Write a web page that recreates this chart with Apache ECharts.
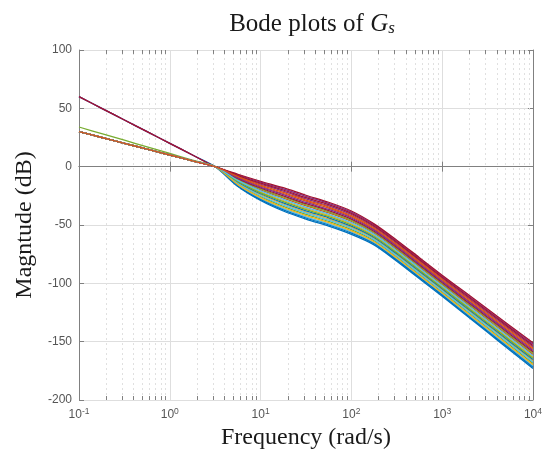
<!DOCTYPE html>
<html><head><meta charset="utf-8">
<script src="https://cdn.jsdelivr.net/npm/echarts@6/dist/echarts.min.js"></script>
<style>html,body{margin:0;padding:0;background:#fff}#c{width:545px;height:457px}</style>
</head><body><div id="c"></div>
<script>
// frequencies (rad/s), quarter-decade steps
const freqs = [0.1, 0.1778, 0.3162, 0.5623, 1, 1.778, 3.162, 5.623, 10, 17.78, 31.62, 56.23, 100, 177.8, 316.2, 562.3, 1000, 1778, 3162, 5623, 10000];
// magnitude (dB) of each response
const mag01 = [60, 50, 40, 30, 20, 10, 0, -17, -29, -38, -45, -51, -58, -67, -81, -96, -111, -126.5, -142, -157.5, -173];
const mag02 = [30, 25, 20, 15, 10, 5, 0, -11.2, -19.9, -27, -33.7, -39.7, -47, -57.1, -71.1, -86.1, -101.1, -116.1, -131, -145.9, -160.9];
const mag03 = [30, 25, 20, 15, 10, 5, 0, -13.9, -24.1, -32, -38.9, -44.9, -52, -61.6, -75.6, -90.6, -105.6, -120.8, -136, -151.2, -166.4];
const mag04 = [60, 50, 40, 30, 20, 10, 0, -7, -13.3, -19, -25.5, -31.5, -39, -49.9, -63.9, -78.9, -93.9, -108.5, -123, -137.6, -152.1];
const mag05 = [34, 28.3, 22.7, 17, 11.3, 5.7, 0, -14.9, -25.7, -34, -40.9, -46.9, -54, -63.4, -77.4, -92.4, -107.4, -122.7, -138, -153.3, -168.6];
const mag06 = [30, 25, 20, 15, 10, 5, 0, -16, -27.4, -36, -43, -49, -56, -65.2, -79.2, -94.2, -109.2, -124.6, -140, -155.4, -170.8];
const mag07 = [60, 50, 40, 30, 20, 10, 0, -6.5, -12.5, -18, -24.5, -30.5, -38, -49, -63, -78, -93, -107.5, -122, -136.5, -151];
const mag08 = [30, 25, 20, 15, 10, 5, 0, -13.3, -23.2, -31, -37.8, -43.8, -51, -60.7, -74.7, -89.7, -104.7, -119.9, -135, -150.2, -165.3];
const mag09 = [30, 25, 20, 15, 10, 5, 0, -9.1, -16.6, -23, -29.6, -35.6, -43, -53.5, -67.5, -82.5, -97.5, -112.3, -127, -141.8, -156.5];
const mag10 = [30, 25, 20, 15, 10, 5, 0, -12.3, -21.6, -29, -35.8, -41.8, -49, -58.9, -72.9, -87.9, -102.9, -118, -133, -148.1, -163.1];
const mag11 = [30, 25, 20, 15, 10, 5, 0, -8.1, -15, -21, -27.6, -33.6, -41, -51.7, -65.7, -80.7, -95.7, -110.4, -125, -139.7, -154.3];
const mag12 = [30, 25, 20, 15, 10, 5, 0, -10.7, -19.1, -26, -32.7, -38.7, -46, -56.2, -70.2, -85.2, -100.2, -115.1, -130, -144.9, -159.8];
const mag13 = [30, 25, 20, 15, 10, 5, 0, -14.4, -24.9, -33, -39.9, -45.9, -53, -62.5, -76.5, -91.5, -106.5, -121.8, -137, -152.3, -167.5];
const mag14 = [30, 25, 20, 15, 10, 5, 0, -7.6, -14.2, -20, -26.6, -32.6, -40, -50.8, -64.8, -79.8, -94.8, -109.4, -124, -138.6, -153.2];
const mag15 = [30, 25, 20, 15, 10, 5, 0, -16.5, -28.2, -37, -44, -50, -57, -66.1, -80.1, -95.1, -110.1, -125.6, -141, -156.5, -171.9];
const mag16 = [30, 25, 20, 15, 10, 5, 0, -10.2, -18.3, -25, -31.7, -37.7, -45, -55.3, -69.3, -84.3, -99.3, -114.2, -129, -143.9, -158.7];
const mag17 = [30, 25, 20, 15, 10, 5, 0, -15.4, -26.5, -35, -41.9, -47.9, -55, -64.3, -78.3, -93.3, -108.3, -123.7, -139, -154.4, -169.7];
const mag18 = [30, 25, 20, 15, 10, 5, 0, -9.7, -17.5, -24, -30.7, -36.7, -44, -54.4, -68.4, -83.4, -98.4, -113.2, -128, -142.8, -157.6];
const mag19 = [30, 25, 20, 15, 10, 5, 0, -12.8, -22.4, -30, -36.8, -42.8, -50, -59.8, -73.8, -88.8, -103.8, -118.9, -134, -149.1, -164.2];
const mag20 = [30, 25, 20, 15, 10, 5, 0, -11.8, -20.8, -28, -34.8, -40.8, -48, -58, -72, -87, -102, -117, -132, -147, -162];
const mag21 = [30, 25, 20, 15, 10, 5, 0, -8.6, -15.8, -22, -28.6, -34.6, -42, -52.6, -66.6, -81.6, -96.6, -111.3, -126, -140.7, -155.4];
const curves = [mag01, mag02, mag03, mag04, mag05, mag06, mag07, mag08, mag09, mag10, mag11,
  mag12, mag13, mag14, mag15, mag16, mag17, mag18, mag19, mag20, mag21];

const yTicks = [-200, -150, -100, -50, 0, 50, 100];
const xMin = 0.1, xMax = 10000;
// MATLAB default line colours, one per curve
const C = { blue: '#0072BD', orange: '#D95319', yellow: '#EDB120', purple: '#7E2F8E', green: '#77AC30', lblue: '#4DBEEE', dred: '#A2142F' };
const lineColors = [C.blue, C.orange, C.yellow, C.purple, C.green, C.lblue, C.dred,
  C.blue, C.orange, C.yellow, C.purple, C.green, C.lblue, C.dred,
  C.blue, C.dred, C.yellow, C.purple, C.green, C.lblue, C.orange];

// minor decade positions 2..9 x 10^k
const minorVals = [];
for (let k = -1; k <= 3; k++) for (let m = 2; m <= 9; m++) minorVals.push(m * Math.pow(10, k));

const axisColor = '#808080';
const labelColor = '#555';
const textColor = '#1a1a1a';

const series = curves.map((c, i) => ({
  type: 'line',
  xAxisIndex: 0, yAxisIndex: 0,
  data: freqs.map((f, j) => [f, c[j]]),
  showSymbol: false,
  smooth: 0.3,
  lineStyle: { width: 1.3, color: lineColors[i] },
  itemStyle: { color: lineColors[i] },
  z: 3,
  silent: true
}));

// minor grid (dotted) + minor ticks top/bottom
series.unshift({
  type: 'line', xAxisIndex: 0, yAxisIndex: 0, data: [], silent: true, z: 1,
  markLine: {
    z: 1, silent: true, symbol: 'none', label: { show: false }, animation: false,
    lineStyle: { type: [2, 3], color: '#e0e0e0', width: 1 },
    data: minorVals.map(v => ({ xAxis: v }))
  }
});
const tickSegs = [];
minorVals.forEach(v => {
  tickSegs.push([{ coord: [v, -200] }, { coord: [v, -196.6] }]);
  tickSegs.push([{ coord: [v, 100] }, { coord: [v, 96.6] }]);
});
series.push({
  type: 'line', xAxisIndex: 0, yAxisIndex: 0, data: [], silent: true, z: 5,
  markLine: {
    z: 5, silent: true, symbol: 'none', label: { show: false }, animation: false,
    lineStyle: { type: 'solid', color: axisColor, width: 1 },
    data: tickSegs
  }
});

const chart = echarts.init(document.getElementById('c'), null, { renderer: 'canvas' });
chart.setOption({
  animation: false,
  backgroundColor: '#fff',
  title: {
    text: '{t|Bode plots of }{g|G}{s|s}',
    left: 307, top: 0, textAlign: 'center',
    textStyle: {
      fontWeight: 'normal',
      rich: {
        t: { fontFamily: 'Liberation Serif', fontWeight: 'normal', fontSize: 25, color: textColor, lineHeight: 32, verticalAlign: 'bottom' },
        g: { fontFamily: 'Liberation Serif', fontWeight: 'normal', fontStyle: 'italic', fontSize: 25, color: textColor, lineHeight: 32, verticalAlign: 'bottom' },
        s: { fontFamily: 'Liberation Serif', fontWeight: 'normal', fontStyle: 'italic', fontSize: 17, color: textColor, lineHeight: 12, verticalAlign: 'bottom' }
      }
    }
  },
  grid: { left: 79, top: 50, width: 456, height: 350, containLabel: false },
  xAxis: [{
    type: 'log', logBase: 10, min: xMin, max: xMax, position: 'bottom',
    axisLine: { show: true, lineStyle: { color: axisColor, width: 1 } },
    axisTick: { show: true, inside: true, length: 5, lineStyle: { color: axisColor } },
    splitLine: { show: true, lineStyle: { color: '#dedede', width: 1 } },
    minorTick: { show: false }, minorSplitLine: { show: false },
    axisLabel: {
      margin: 7,
      formatter: v => '{b|10}{s|' + Math.round(Math.log10(v)) + '}',
      rich: {
        b: { fontFamily: 'Liberation Sans', fontSize: 12, color: labelColor, lineHeight: 14, verticalAlign: 'bottom' },
        s: { fontFamily: 'Liberation Sans', fontSize: 8.5, color: labelColor, lineHeight: 10, verticalAlign: 'top' }
      }
    },
    name: 'Frequency (rad/s)', nameLocation: 'middle', nameGap: 24,
    nameTextStyle: { fontFamily: 'Liberation Serif', fontSize: 24, color: textColor }
  }, {
    type: 'log', logBase: 10, min: xMin, max: xMax, position: 'top',
    axisLine: { show: true, lineStyle: { color: axisColor, width: 1 } },
    axisTick: { show: true, inside: true, length: 5, lineStyle: { color: axisColor } },
    splitLine: { show: false }, axisLabel: { show: false }
  }],
  yAxis: [{
    type: 'value', min: -200, max: 100, interval: 50, position: 'left',
    axisLine: { show: true, lineStyle: { color: axisColor, width: 1 } },
    axisTick: { show: true, inside: true, length: 5, lineStyle: { color: axisColor } },
    splitLine: { show: true, lineStyle: { color: '#dedede', width: 1 } },
    axisLabel: { margin: 7, fontFamily: 'Liberation Sans', fontSize: 12, color: labelColor,
      formatter: v => (yTicks.indexOf(v) >= 0 ? String(v) : '') },
    name: 'Magntude (dB)', nameLocation: 'middle', nameGap: 36,
    nameTextStyle: { fontFamily: 'Liberation Serif', fontSize: 24, color: textColor }
  }, {
    type: 'value', min: -200, max: 100, interval: 50, position: 'right',
    axisLine: { show: true, lineStyle: { color: axisColor, width: 1 } },
    axisTick: { show: true, inside: true, length: 5, lineStyle: { color: axisColor } },
    splitLine: { show: false }, axisLabel: { show: false }
  }],
  series: series
});
</script></body></html>
